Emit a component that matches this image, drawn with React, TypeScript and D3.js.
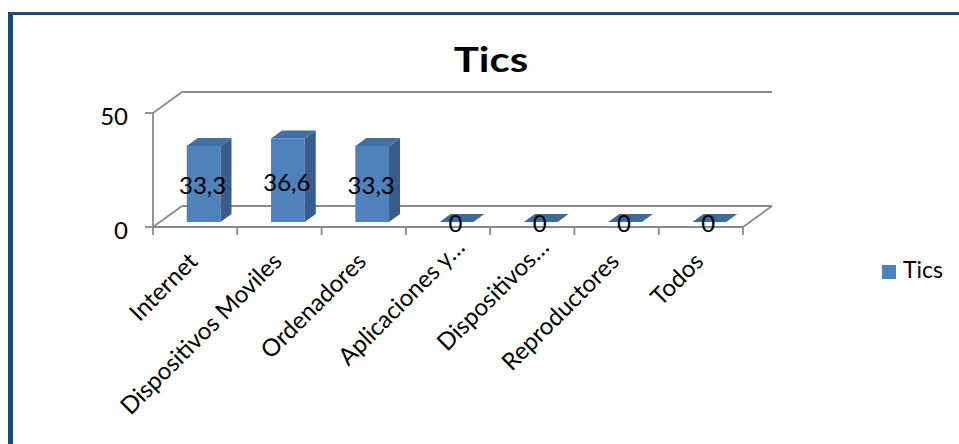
import React from "react";
import * as d3 from "d3";

// Chart content
const chartTitle = "Tics";
const seriesName = "Tics";
const categories = [
  "Internet",
  "Dispositivos Moviles",
  "Ordenadores",
  "Aplicaciones y…",
  "Dispositivos…",
  "Reproductores",
  "Todos",
];
const values = [33.3, 36.6, 33.3, 0, 0, 0, 0];
const yTicks = [0, 50];

const W = 959;
const H = 444;
const FONT = "Lato, 'Open Sans', 'DejaVu Sans', sans-serif";

// Plot frame (front plane) and the oblique depth vector
const X0 = 153;
const X1 = 743;
const Y_BASE = 227;
const Y_TOP = 113;
const DX = 29;
const DY = -21;
const Z_FRONT = 0.24;
const Z_BACK = 0.62;

const GRID = "#8a8a8a";
const FRONT = "#4F81BD";
const SIDE = "#385D8A";
const TOP = "#416FA6";

const fmt = (v: number) => (v === 0 ? "0" : d3.format(".1f")(v).replace(".", ","));

export default function App() {
  const x = d3.scaleBand<string>().domain(categories).range([X0, X1]);
  const y = d3.scaleLinear().domain([0, 50]).range([Y_BASE, Y_TOP]);
  const bw = x.bandwidth();
  const barW = bw * 0.4;

  const P = (px: number, py: number, z: number): [number, number] => [px + z * DX, py + z * DY];
  const poly = (pts: [number, number][]) => pts.map((p) => p.join(",")).join(" ");
  const line = (a: [number, number], b: [number, number], key: string) => (
    <line key={key} x1={a[0]} y1={a[1]} x2={b[0]} y2={b[1]} stroke={GRID} strokeWidth={1.8} />
  );

  const yMax = y(50);
  const y0 = y(0);

  return (
    <svg
      width={W}
      height={H}
      style={{ position: "absolute", left: 0, top: 0, background: "#fff" }}
      fontFamily={FONT}
    >
      <rect x={0} y={0} width={W} height={H} fill="#fff" />
      {/* outer frame */}
      <rect x={8} y={12} width={W - 8} height={3} fill="#1F497D" />
      <rect x={8} y={12} width={5} height={H - 12} fill="#1F497D" />

      {/* walls and floor */}
      <g>
        {line(P(X0, yMax, 0), P(X0, yMax, 1), "lw-top")}
        {line(P(X0, yMax, 1), P(X1, yMax, 1), "bw-top")}
        {line(P(X0, y0, 1), P(X1, y0, 1), "bw-floor")}
        {line(P(X0, y0, 0), P(X0, y0, 1), "lw-floor")}
        {line(P(X1, y0, 0), P(X1, y0, 1), "rw-floor")}
        {line([X0, y0], [X1, y0], "x-axis")}
        {line([X0, y0], [X0, yMax], "y-axis")}
      </g>

      {/* y ticks */}
      {yTicks.map((t) => (
        <g key={"yt" + t}>
          <line x1={X0 - 8} x2={X0} y1={y(t)} y2={y(t)} stroke={GRID} strokeWidth={1.8} />
          <text x={128} y={y(t) + 2.5} textAnchor="end" dominantBaseline="central" fontSize={24} fill="#000">
            {t}
          </text>
        </g>
      ))}

      {/* x ticks */}
      {[...categories.map((c) => x(c) as number), X1].map((tx, i) => (
        <line key={"xt" + i} x1={tx} x2={tx} y1={y0} y2={y0 + 8} stroke={GRID} strokeWidth={1.8} />
      ))}

      {/* bars */}
      {categories.map((c, i) => {
        const xl = (x(c) as number) + (bw - barW) / 2 + 1.5;
        const xr = xl + barW;
        const yt = y(values[i]);
        const front = [P(xl, yt, Z_FRONT), P(xr, yt, Z_FRONT), P(xr, y0, Z_FRONT), P(xl, y0, Z_FRONT)];
        const side = [P(xr, yt, Z_FRONT), P(xr, yt, Z_BACK), P(xr, y0, Z_BACK), P(xr, y0, Z_FRONT)];
        const top = [P(xl, yt, Z_FRONT), P(xr, yt, Z_FRONT), P(xr, yt, Z_BACK), P(xl, yt, Z_BACK)];
        return (
          <g key={"bar" + i}>
            {values[i] > 0 && <polygon points={poly(front)} fill={FRONT} />}
            {values[i] > 0 && <polygon points={poly(side)} fill={SIDE} />}
            <polygon points={poly(top)} fill={values[i] > 0 ? TOP : "#3E6A9E"} />
          </g>
        );
      })}

      {/* value labels */}
      {categories.map((c, i) => {
        const xl = (x(c) as number) + (bw - barW) / 2 + 1.5;
        const [cx, cy] = P(xl + barW / 2, (y(values[i]) + y0) / 2, Z_FRONT);
        return (
          <text
            key={"vl" + i}
            x={cx - 1}
            y={cy + 1}
            textAnchor="middle"
            dominantBaseline="central"
            fontSize={24}
            fill="#000"
          >
            {fmt(values[i])}
          </text>
        );
      })}

      {/* category labels */}
      {categories.map((c, i) => {
        const cx = (x(c) as number) + bw / 2;
        const trunc = c.endsWith("…");
        return (
          <text
            key={"cl" + i}
            transform={`translate(${cx + 4},${y0 + 36}) rotate(-45)`}
            x={trunc ? 20 : 0}
            textAnchor="end"
            fontSize={24}
            fill="#000"
          >
            {c}
          </text>
        );
      })}

      {/* title */}
      <text
        transform={`translate(491,72) scale(1.2,1)`}
        textAnchor="middle"
        fontSize={35}
        fontWeight="bold"
        fill="#000"
      >
        {chartTitle}
      </text>

      {/* legend */}
      <rect x={882} y={265} width={14} height={14} fill={FRONT} />
      <text x={903} y={278} fontSize={23} fill="#000">
        {seriesName}
      </text>
    </svg>
  );
}
